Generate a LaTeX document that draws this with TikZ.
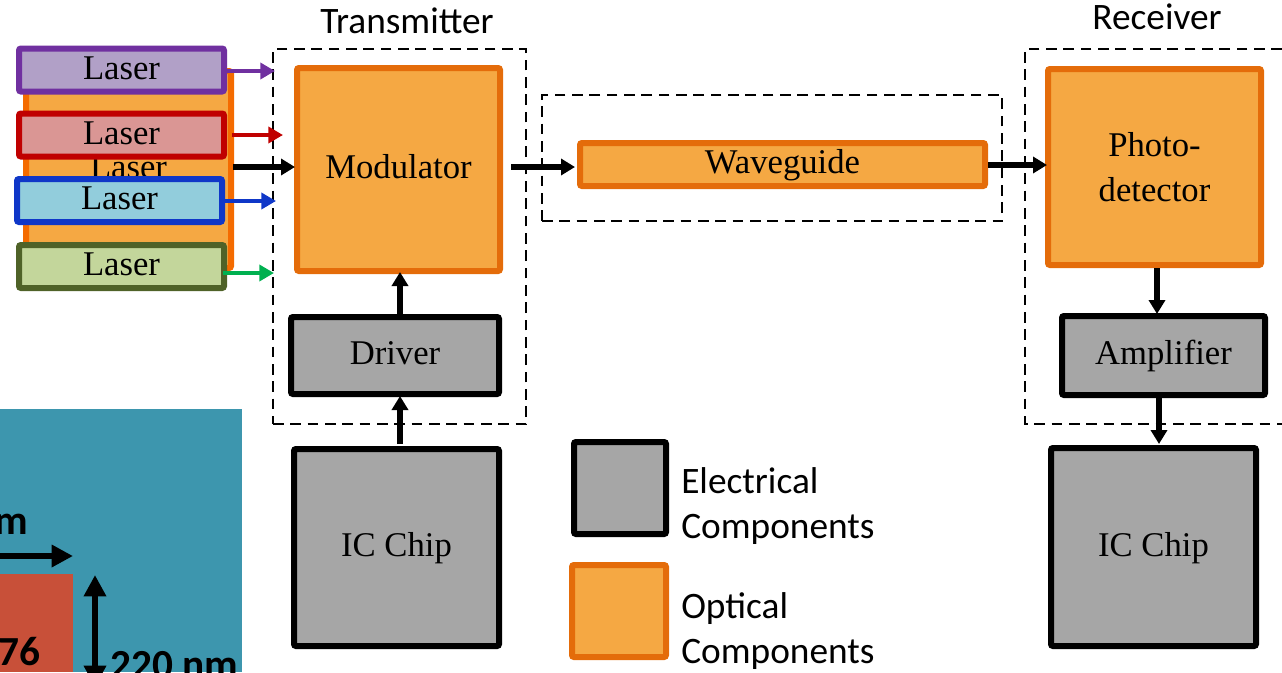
\documentclass[tikz,border=0pt]{standalone}
\usepackage{fontspec}
\setmainfont{Liberation Serif}
\newfontfamily\sanslab{Carlito}
\usetikzlibrary{arrows.meta,shadows}
\definecolor{optfill}{HTML}{F5A843}
\definecolor{optline}{HTML}{E46C0A}
\definecolor{backline}{HTML}{F46B00}
\definecolor{greyfill}{HTML}{A6A6A6}
\definecolor{tealbg}{HTML}{3D96AE}
\definecolor{brick}{HTML}{C85039}
\definecolor{pfill}{HTML}{B1A0C7}
\definecolor{pline}{HTML}{7030A0}
\definecolor{rfill}{HTML}{DA9694}
\definecolor{rline}{HTML}{C00000}
\definecolor{bfill}{HTML}{92CDDC}
\definecolor{bline}{HTML}{0F37C8}
\definecolor{gfill}{HTML}{C3D69B}
\definecolor{gline}{HTML}{4F6228}
\definecolor{garrow}{HTML}{00B050}
\tikzset{
  x=0.75pt,y=-0.75pt,
  wh/.style 2 args={minimum width=#1*0.75pt,minimum height=#2*0.75pt,inner sep=0pt,outer sep=0pt},
  softshadow/.style={drop shadow={shadow xshift=1pt,shadow yshift=-1.5pt,opacity=0.25,fill=black}},
  box/.style={draw,line width=4.5pt,rounded corners=1.5pt,softshadow,font=\fontsize{26}{33.75}\selectfont,align=center,text height=17pt,text depth=3pt},
  multi/.style={text height=,text depth=},
  optical/.style={box,fill=optfill,draw=optline},
  electrical/.style={box,fill=greyfill,draw=black},
  laserbox/.style 2 args={box,fill=#1,draw=#2},
  frame/.style={draw=black,line width=1.8pt,dash pattern=on 8pt off 5pt},
  conn/.style={line width=4pt,-{Triangle[length=10.5pt,width=12pt]}},
  colconn/.style={line width=3.5pt,draw=#1,-{Triangle[length=11pt,width=12pt,fill=#1]}},
  sanslabel/.style={font=\sanslab\fontsize{28}{33.75}\selectfont,align=left,inner sep=0pt,text=black},
  insetlabel/.style={font=\sanslab\bfseries\fontsize{31}{33}\selectfont,anchor=base west,inner sep=0pt},
  insetarrow/.style={line width=4.6pt,-{Triangle[length=16pt,width=16pt]}},
}
\begin{document}
\begin{tikzpicture}
\useasboundingbox (0,0) rectangle (1282,672);
\begin{scope}
\clip (0,0) rectangle (1282,672);
% inset
\node[fill=tealbg,wh={242}{263}] (inset) at (121,540.5) {};
\node[fill=brick,wh={73}{98}] (core) at (36.5,623) {};
\node[insetlabel] (wlabel) at (-6,534) {m};
\node[insetlabel] (nlabel) at (-2,665) {76};
\node[insetlabel] (hlabel) at (110,678) {220 nm};
\coordinate (wstart) at (0,556);
\coordinate (wend) at (73,556);
\coordinate (htop) at (95,575);
\coordinate (hbot) at (95,687);
\draw[insetarrow] (wstart) -- (wend);
\draw[insetarrow,{Triangle[length=16pt,width=16pt]}-{Triangle[length=16pt,width=16pt]}] (htop) -- (hbot);
% frames
\node[frame,wh={253}{375}] (txframe) at (399.5,236.5) {};
\node[frame,wh={460}{126}] (wgframe) at (772,158) {};
\coordinate (rxa) at (1282,49);
\coordinate (rxb) at (1282,424);
\draw[frame] (rxa) -- (1025,49) -- (1025,424) -- (rxb);
\node[sanslabel,anchor=base] (txt) at (407,33) {Transmitter};
\node[sanslabel,anchor=base] (rxt) at (1157,29) {Receiver};
% lasers
\node[optical,draw=backline,wh={205}{197}] (back) at (128.5,169.5) {Laser};
\node[laserbox={pfill}{pline},wh={205}{43}] (lp) at (121.5,70) {Laser};
\node[laserbox={rfill}{rline},wh={205}{43}] (lr) at (121.5,135) {Laser};
\node[laserbox={bfill}{bline},wh={205}{43}] (lb) at (119.5,200.5) {Laser};
\node[laserbox={gfill}{gline},wh={205}{43}] (lg) at (121.5,266.5) {Laser};
% blocks
\node[optical,wh={203}{203}] (mod) at (398.5,169.5) {Modulator};
\node[electrical,wh={208}{77}] (drv) at (395,355.5) {Driver};
\node[electrical,wh={205}{197}] (ic1) at (396.5,547.5) {IC Chip};
\node[optical,wh={405}{43}] (wg) at (782.5,164.5) {Waveguide};
\node[optical,multi,wh={213}{196}] (pd) at (1154.5,167) {Photo-\\detector};
\node[electrical,wh={203}{79}] (amp) at (1163.5,355.5) {Amplifier};
\node[electrical,wh={205}{198}] (ic2) at (1153.5,547) {IC Chip};
% legend
\node[electrical,wh={92}{92}] (lege) at (620,488) {};
\node[optical,wh={94}{92}] (lego) at (619,611) {};
\node[sanslabel,anchor=west] (elab) at (681,506) {Electrical\\Components};
\node[sanslabel,anchor=west] (olab) at (681,631) {Optical\\Components};
% arrows
\coordinate (pe) at (275,71);
\coordinate (ps) at (227,71);
\coordinate (re) at (283,135);
\coordinate (rs) at (232,135);
\coordinate (be) at (276,201);
\coordinate (bs) at (225,201);
\coordinate (ge) at (274,273);
\coordinate (gs) at (223,273);
\coordinate (ks) at (233,167);
\coordinate (ke) at (295,167);
\draw[colconn=pline] (ps) -- (pe);
\draw[colconn=rline] (rs) -- (re);
\draw[colconn=bline] (bs) -- (be);
\draw[colconn=garrow] (gs) -- (ge);
\draw[conn] (ks) -- (ke);
\coordinate (ms) at (511,167);
\coordinate (me) at (575,167);
\draw[conn] (ms) -- (me);
\coordinate (ws) at (988,165);
\coordinate (we) at (1047,165);
\draw[conn] (ws) -- (we);
\coordinate (d1) at (400,314);
\coordinate (d2) at (400,272);
\draw[conn] (d1) -- (d2);
\coordinate (i1) at (400,444);
\coordinate (i2) at (400,396);
\draw[conn] (i1) -- (i2);
\coordinate (p1) at (1157,268);
\coordinate (p2) at (1157,314);
\draw[conn] (p1) -- (p2);
\coordinate (a1) at (1159,398);
\coordinate (a2) at (1159,444);
\draw[conn] (a1) -- (a2);
\end{scope}
\end{tikzpicture}
\end{document}
